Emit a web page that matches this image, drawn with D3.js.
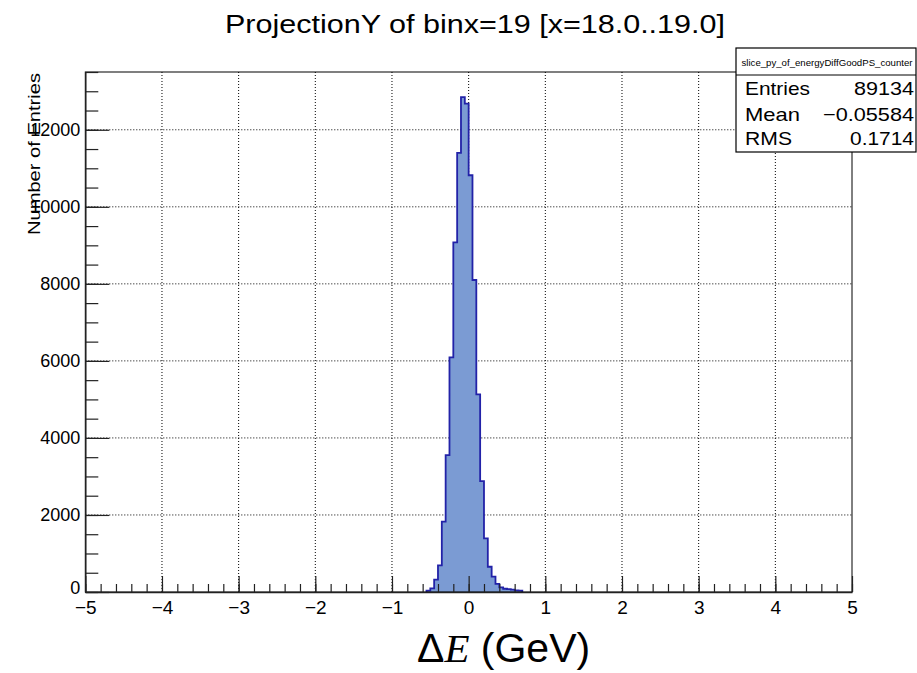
<!DOCTYPE html>
<html>
<head>
<meta charset="UTF-8">
<title>ProjectionY of binx=19</title>
<script src="https://d3js.org/d3.v7.min.js"></script>
<style>
  body { margin: 0; background: #fff; }
  text { font-family: "Liberation Sans", Arial, sans-serif; }
</style>
</head>
<body>
<div id="chart"></div>
<script>
// histogram contents (low edge of each non-empty bin, bin width 0.05)
const binLow = [-0.55, -0.50, -0.45, -0.40, -0.35, -0.30, -0.25, -0.20, -0.15, -0.10, -0.05,
                 0.00, 0.05, 0.10, 0.15, 0.20, 0.25, 0.30, 0.35, 0.40, 0.45, 0.50, 0.55, 0.60, 0.65];
const counts = [35, 95, 320, 690, 1825, 3555, 6090, 9076, 11400, 12850, 12680,
                10820, 8100, 5130, 2880, 1390, 655, 400, 210, 120, 85, 75, 60, 40, 35];
const binWidth = 0.05;

const xTicks = [-5, -4, -3, -2, -1, 0, 1, 2, 3, 4, 5];
const yTicks = [0, 2000, 4000, 6000, 8000, 10000, 12000];
const statLabels = ["Entries", "Mean", "RMS"];
const statValues = ["89134", "\u22120.05584", "0.1714"];

const W = 917, H = 673;
const frame = {left: 85.3, right: 852, top: 72, bottom: 592};

const svg = d3.select("#chart").append("svg")
    .attr("width", W).attr("height", H);

const x = d3.scaleLinear().domain([-5, 5]).range([frame.left, frame.right]);
const y = d3.scaleLinear().domain([0, 13500]).range([frame.bottom, frame.top]);

// grid
svg.append("g").selectAll("line").data(xTicks.slice(1, -1)).join("line")
    .attr("x1", d => x(d)).attr("x2", d => x(d))
    .attr("y1", frame.top).attr("y2", frame.bottom)
    .attr("stroke", "#000").attr("stroke-dasharray", "1,2");
svg.append("g").selectAll("line").data(yTicks.slice(1)).join("line")
    .attr("x1", frame.left).attr("x2", frame.right)
    .attr("y1", d => y(d)).attr("y2", d => y(d))
    .attr("stroke", "#000").attr("stroke-dasharray", "1,2");

// histogram
const pts = [[binLow[0], 0]];
binLow.forEach((b, i) => pts.push([b, counts[i]]));
const lastEdge = binLow[binLow.length - 1] + binWidth;
pts.push([lastEdge, counts[counts.length - 1]]);
pts.push([lastEdge, 0]);

const line = d3.line().x(d => x(d[0])).y(d => y(d[1])).curve(d3.curveStepAfter);
svg.append("path")
    .attr("d", line(pts))
    .attr("fill", "#7b9bd3")
    .attr("stroke", "#2222a8")
    .attr("stroke-width", 1.8);

// frame
svg.append("rect")
    .attr("x", frame.left).attr("y", frame.top)
    .attr("width", frame.right - frame.left).attr("height", frame.bottom - frame.top)
    .attr("fill", "none").attr("stroke", "#000").attr("stroke-width", 1);

// x axis: major + minor ticks pointing inward
const xAxis = svg.append("g").attr("transform", `translate(0,${frame.bottom})`)
    .call(d3.axisBottom(x).tickValues(xTicks).tickSizeInner(-16).tickSizeOuter(0).tickPadding(9));
xAxis.selectAll("text").attr("font-size", 19).attr("fill", "#000")
    .attr("font-family", "Liberation Sans, Arial, sans-serif");
svg.append("g").attr("transform", `translate(0,${frame.bottom})`)
    .call(d3.axisBottom(x).ticks(50).tickSizeInner(-8).tickSizeOuter(0).tickFormat(""))
    .call(g => g.select(".domain").remove());

// y axis
const yAxis = svg.append("g").attr("transform", `translate(${frame.left},0)`)
    .call(d3.axisLeft(y).tickValues(yTicks).tickSizeInner(-24).tickSizeOuter(0).tickPadding(5)
        .tickFormat(d3.format("d")));
yAxis.selectAll("text").attr("font-size", 18).attr("fill", "#000")
    .attr("font-family", "Liberation Sans, Arial, sans-serif");
yAxis.selectAll(".tick").filter(d => d === 0).select("text").attr("dy", "0.1em");
svg.append("g").attr("transform", `translate(${frame.left},0)`)
    .call(d3.axisLeft(y).ticks(27).tickSizeInner(-13).tickSizeOuter(0).tickFormat(""))
    .call(g => g.select(".domain").remove());
svg.selectAll(".domain").attr("stroke", "#222").attr("stroke-width", 1.5);
svg.selectAll(".tick line").attr("stroke", "#222").attr("stroke-width", 1.2);

// y title
svg.append("text")
    .attr("transform", `translate(40,${frame.top + 1}) rotate(-90)`)
    .attr("text-anchor", "end")
    .attr("font-size", 17)
    .attr("textLength", 162).attr("lengthAdjust", "spacingAndGlyphs")
    .text("Number of Entries");

// title
svg.append("text")
    .attr("x", 225).attr("y", 33)
    .attr("font-size", 25.5)
    .attr("textLength", 500).attr("lengthAdjust", "spacingAndGlyphs")
    .text("ProjectionY of binx=19 [x=18.0..19.0]");

// stats box
const box = {x: 736, y: 48, w: 180, h: 104, head: 75};
svg.append("rect")
    .attr("x", box.x).attr("y", box.y).attr("width", box.w).attr("height", box.h)
    .attr("fill", "#fff").attr("stroke", "#000").attr("stroke-width", 1.2);
svg.append("line")
    .attr("x1", box.x).attr("x2", box.x + box.w)
    .attr("y1", box.head).attr("y2", box.head)
    .attr("stroke", "#000").attr("stroke-width", 1);
svg.append("text")
    .attr("x", box.x + box.w / 2 + 1).attr("y", 66)
    .attr("text-anchor", "middle").attr("font-size", 9)
    .attr("textLength", 171).attr("lengthAdjust", "spacingAndGlyphs")
    .text("slice_py_of_energyDiffGoodPS_counter");
const rowY = [95, 121, 145];
const labelLen = [65, 55, 47];
const valueLen = [60, 91, 64];
statLabels.forEach((s, i) => {
  svg.append("text").attr("x", 745).attr("y", rowY[i])
      .attr("font-size", 18.5)
      .attr("textLength", labelLen[i]).attr("lengthAdjust", "spacingAndGlyphs").text(s);
  svg.append("text").attr("x", 914).attr("y", rowY[i])
      .attr("text-anchor", "end").attr("font-size", 18.5)
      .attr("textLength", valueLen[i]).attr("lengthAdjust", "spacingAndGlyphs").text(statValues[i]);
});

// x title
const xt = svg.append("text")
    .attr("x", 417).attr("y", 662)
    .attr("font-size", 41)
    .attr("font-family", "Noto Sans, sans-serif");
xt.append("tspan").text("\u0394");
xt.append("tspan").attr("font-family", "Liberation Serif, serif").attr("font-style", "italic").text("E");
xt.append("tspan").text(" (GeV)");
</script>
</body>
</html>
